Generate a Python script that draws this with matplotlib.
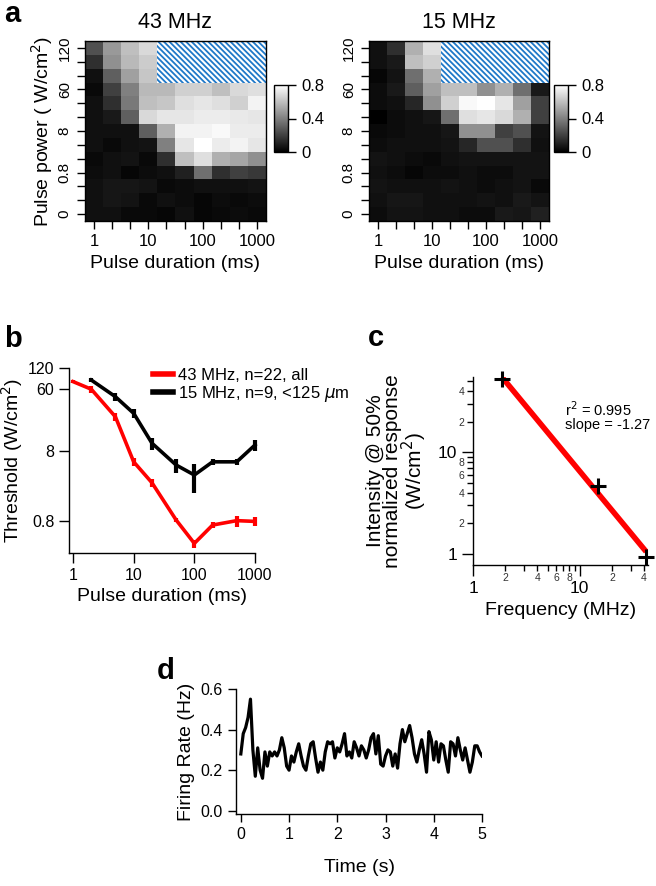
import numpy as np
import matplotlib.pyplot as plt
from matplotlib.patches import Rectangle
from matplotlib.lines import Line2D
from matplotlib.ticker import NullLocator

plt.rcParams['font.family'] = ['Liberation Sans', 'DejaVu Sans']
plt.rcParams['hatch.linewidth'] = 1.3
plt.rcParams['axes.linewidth'] = 1.0

W, H = 656, 886

# panel a: response maps, rows from top (120 W/cm2) to bottom (0)
nan = np.nan
duration_labels = ['1', '', '', '10', '', '', '100', '', '', '1000']
power_labels = ['120', '', '', '60', '', '', '8', '', '', '0.8', '', '', '0']

resp_43 = [
    [0.25, 0.48, 0.60, 0.68, nan, nan, nan, nan, nan, nan],
    [0.15, 0.45, 0.58, 0.64, nan, nan, nan, nan, nan, nan],
    [0.05, 0.30, 0.50, 0.62, nan, nan, nan, nan, nan, nan],
    [0.03, 0.20, 0.40, 0.58, 0.58, 0.65, 0.65, 0.60, 0.68, 0.70],
    [0.05, 0.15, 0.38, 0.60, 0.62, 0.70, 0.72, 0.70, 0.65, 0.76],
    [0.05, 0.08, 0.30, 0.68, 0.72, 0.72, 0.74, 0.74, 0.73, 0.72],
    [0.05, 0.05, 0.05, 0.30, 0.55, 0.76, 0.76, 0.78, 0.74, 0.74],
    [0.05, 0.03, 0.05, 0.06, 0.40, 0.72, 0.80, 0.74, 0.76, 0.72],
    [0.03, 0.05, 0.06, 0.03, 0.15, 0.60, 0.70, 0.55, 0.52, 0.45],
    [0.04, 0.05, 0.02, 0.04, 0.05, 0.10, 0.35, 0.15, 0.20, 0.18],
    [0.05, 0.07, 0.07, 0.06, 0.03, 0.04, 0.05, 0.05, 0.05, 0.06],
    [0.05, 0.07, 0.06, 0.03, 0.05, 0.04, 0.02, 0.04, 0.03, 0.04],
    [0.05, 0.05, 0.03, 0.03, 0.02, 0.05, 0.02, 0.03, 0.04, 0.03],
]

resp_15 = [
    [0.05, 0.15, 0.55, 0.70, nan, nan, nan, nan, nan, nan],
    [0.05, 0.08, 0.60, 0.65, nan, nan, nan, nan, nan, nan],
    [0.02, 0.06, 0.35, 0.55, nan, nan, nan, nan, nan, nan],
    [0.04, 0.08, 0.30, 0.50, 0.60, 0.60, 0.45, 0.55, 0.35, 0.08],
    [0.04, 0.05, 0.12, 0.45, 0.65, 0.78, 0.80, 0.72, 0.50, 0.20],
    [0.00, 0.04, 0.05, 0.07, 0.35, 0.70, 0.72, 0.68, 0.55, 0.20],
    [0.03, 0.04, 0.05, 0.05, 0.07, 0.45, 0.45, 0.20, 0.25, 0.06],
    [0.04, 0.05, 0.05, 0.05, 0.06, 0.12, 0.25, 0.25, 0.15, 0.05],
    [0.06, 0.05, 0.04, 0.03, 0.05, 0.06, 0.06, 0.06, 0.06, 0.06],
    [0.05, 0.04, 0.02, 0.04, 0.04, 0.05, 0.04, 0.04, 0.06, 0.06],
    [0.06, 0.05, 0.05, 0.05, 0.06, 0.05, 0.04, 0.05, 0.06, 0.03],
    [0.05, 0.07, 0.07, 0.05, 0.05, 0.05, 0.06, 0.05, 0.08, 0.06],
    [0.04, 0.06, 0.06, 0.05, 0.05, 0.04, 0.04, 0.08, 0.07, 0.10],
]

# panel b: thresholds
dur_43 = [1, 2, 5, 10, 20, 50, 100, 200, 500, 1000]
thr_43 = [77, 60, 24.4, 5.6, 2.83, 0.84, 0.39, 0.71, 0.82, 0.80]
thr_43_err = [4, 7, 3.3, 0.65, 0.34, 0.05, 0.05, 0.075, 0.15, 0.11]
dur_15 = [2, 5, 10, 20, 50, 100, 200, 500, 1000]
thr_15 = [81, 47, 27.3, 10.3, 5.05, 3.64, 5.6, 5.6, 9.7]
thr_15_err = [5, 6, 4.2, 2.0, 1.1, 1.6, 0.5, 0.5, 1.6]

# panel c
freq = [1.86, 14.8, 41.8]
intensity = [52, 4.7, 0.94]

# panel d: firing rate, 50 ms bins
firing_rate = [
    0.28, 0.38, 0.41, 0.46, 0.55, 0.30, 0.17, 0.31, 0.20, 0.16,
    0.29, 0.22, 0.29, 0.27, 0.29, 0.27, 0.30, 0.36, 0.31, 0.22,
    0.20, 0.27, 0.24, 0.29, 0.33, 0.27, 0.22, 0.20, 0.27, 0.33,
    0.34, 0.26, 0.19, 0.24, 0.20, 0.29, 0.34, 0.33, 0.34, 0.26,
    0.31, 0.29, 0.33, 0.38, 0.27, 0.29, 0.26, 0.34, 0.31, 0.27,
    0.32, 0.30, 0.26, 0.30, 0.36, 0.38, 0.28, 0.37, 0.23, 0.22,
    0.27, 0.30, 0.29, 0.22, 0.28, 0.21, 0.33, 0.40, 0.34, 0.38,
    0.42, 0.36, 0.28, 0.24, 0.30, 0.35, 0.28, 0.19, 0.39, 0.35,
    0.25, 0.34, 0.24, 0.33, 0.32, 0.25, 0.19, 0.34, 0.33, 0.27,
    0.36, 0.30, 0.25, 0.31, 0.25, 0.19, 0.24, 0.32, 0.32, 0.29,
    0.27,
]


def px_axes(fig, x0, y0, x1, y1):
    return fig.add_axes([x0 / W, 1 - y1 / H, (x1 - x0) / W, (y1 - y0) / H])


def draw_map(fig, ax, cax, data, title, ylabel=None):
    im = ax.imshow(np.array(data), cmap='gray', vmin=0, vmax=0.8,
                   aspect='auto', interpolation='nearest')
    ax.add_patch(Rectangle((3.5, -0.5), 6, 3, facecolor='white',
                           edgecolor='#1f78c8', hatch='\\' * 6, lw=0))
    ax.set_xticks(range(10), duration_labels)
    ax.set_yticks(range(13), power_labels, rotation=90, va='center')
    ax.tick_params(axis='x', length=6, width=1, labelsize=12)
    ax.tick_params(axis='y', length=6, width=1, labelsize=11)
    ax.set_title(title, fontsize=15.5, pad=9)
    ax.set_xlabel('Pulse duration (ms)', fontsize=14)
    if ylabel:
        ax.set_ylabel(ylabel, fontsize=14, labelpad=2)
    cb = fig.colorbar(im, cax=cax, ticks=[0, 0.4, 0.8])
    cb.ax.set_yticklabels(['0', '0.4', '0.8'])
    cb.ax.tick_params(labelsize=12, length=6, width=1)


def main():
    fig = plt.figure(figsize=(W / 100, H / 100), dpi=100)

    ax1 = px_axes(fig, 85, 41, 266, 221)
    cax1 = px_axes(fig, 274, 85, 288, 152)
    draw_map(fig, ax1, cax1, resp_43, '43 MHz', 'Pulse power ( W/cm$^2$)')
    ax2 = px_axes(fig, 369, 41, 549, 221)
    cax2 = px_axes(fig, 554, 85, 568, 152)
    draw_map(fig, ax2, cax2, resp_15, '15 MHz')

    # panel b
    axb = px_axes(fig, 69, 368, 255, 553)
    axb.set_xscale('log')
    axb.set_yscale('log')
    axb.errorbar(dur_43, thr_43, yerr=thr_43_err, color='red', lw=2.6,
                 elinewidth=3, capsize=0, clip_on=False)
    axb.errorbar(dur_15, thr_15, yerr=thr_15_err, color='black', lw=2.6,
                 elinewidth=3, capsize=0, clip_on=False)
    axb.set_xlim(0.859, 1000)
    axb.set_ylim(0.285, 120)
    axb.set_xticks([1, 10, 100, 1000], ['1', '10', '100', '1000'])
    axb.set_yticks([0.8, 8, 60, 120], ['0.8', '8', '60', '120'])
    axb.xaxis.set_minor_locator(NullLocator())
    axb.yaxis.set_minor_locator(NullLocator())
    axb.tick_params(length=7, width=1, labelsize=11.5)
    for s in ['top', 'right']:
        axb.spines[s].set_visible(False)
    axb.set_xlabel('Pulse duration (ms)', fontsize=14)
    axb.set_ylabel('Threshold (W/cm$^2$)', fontsize=14, labelpad=2)
    handles = [Line2D([], [], color='red', lw=4),
               Line2D([], [], color='black', lw=4)]
    axb.legend(handles, ['43 MHz, n=22, all', '15 MHz, n=9, <125 $\\mu$m'],
               loc='upper left', bbox_to_anchor=(146 / W, 1 - 361 / H),
               bbox_transform=fig.transFigure, frameon=False,
               fontsize=12, handlelength=1.2, handletextpad=0.35,
               labelspacing=0.05, borderaxespad=0)

    # panel c
    axc = px_axes(fig, 473, 377, 648, 565)
    axc.set_xscale('log')
    axc.set_yscale('log')
    slope, icpt = np.polyfit(np.log10(freq), np.log10(intensity), 1)
    fx = np.array([freq[0], freq[-1]])
    axc.plot(fx, 10 ** (icpt + slope * np.log10(fx)), color='red', lw=4,
             solid_capstyle='butt')
    axc.plot(freq, intensity, '+', color='black', ms=11, mew=2.2,
             clip_on=False)
    axc.set_xlim(1, 43.5)
    axc.set_ylim(0.78, 55)
    axc.set_xticks([1, 10], ['1', '10'])
    xm = [2, 3, 4, 5, 6, 7, 8, 9, 20, 30, 40]
    axc.set_xticks(xm, ['2', '', '4', '', '6', '', '8', '', '2', '', '4'],
                   minor=True)
    axc.set_yticks([1, 10], ['1', '10'])
    ym = [2, 3, 4, 5, 6, 7, 8, 9, 20, 30, 40, 50]
    axc.set_yticks(ym, ['2', '', '4', '', '6', '', '8', '', '2', '', '4', ''],
                   minor=True)
    axc.tick_params(which='major', length=8, width=1, labelsize=12.5)
    axc.tick_params(which='minor', length=4, width=1, labelsize=7.5,
                    labelcolor='#333333', pad=2)
    for s in ['top', 'right']:
        axc.spines[s].set_visible(False)
    axc.set_xlabel('Frequency (MHz)', fontsize=14)
    axc.set_ylabel('Intensity @ 50%\nnormalized response\n(W/cm$^2$)',
                   fontsize=15, linespacing=0.9, labelpad=6)
    fig.text(565 / W, 1 - 429 / H, 'r$^2$ = 0.995\nslope = -1.27',
             fontsize=10.5, linespacing=0.95)

    # panel d
    axd = px_axes(fig, 236, 689, 482, 814)
    t = np.linspace(0, 5, len(firing_rate))
    axd.plot(t, firing_rate, color='black', lw=2.3)
    axd.set_xlim(-0.1, 5)
    axd.set_ylim(-0.016, 0.6)
    axd.set_xticks(range(6))
    axd.set_yticks([0.0, 0.2, 0.4, 0.6], ['0.0', '0.2', '0.4', '0.6'])
    axd.tick_params(length=6, width=1, labelsize=11.5)
    for s in ['top', 'right']:
        axd.spines[s].set_visible(False)
    axd.set_xlabel('Time (s)', fontsize=14, labelpad=12)
    axd.set_ylabel('Firing Rate (Hz)', fontsize=14, labelpad=4)

    for letter, x, y in [('a', 4, 22), ('b', 4, 347), ('c', 368, 346),
                         ('d', 157, 679)]:
        fig.text(x / W, 1 - y / H, letter, fontsize=21, fontweight='bold')

    fig.savefig('out.png', dpi=100)


if __name__ == '__main__':
    main()
